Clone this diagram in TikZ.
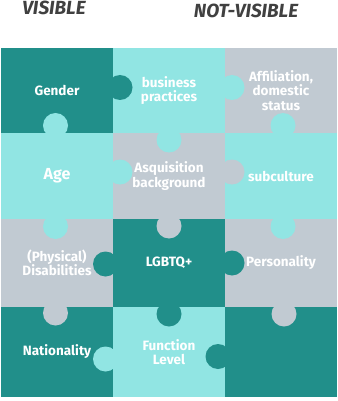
\documentclass[tikz,border=0pt]{standalone}
\usepackage{fontspec}
\setmainfont{Fira Sans}
\usetikzlibrary{positioning}
\definecolor{puzzledark}{HTML}{218F8A}
\definecolor{puzzlelight}{HTML}{91E5E3}
\definecolor{puzzlegrey}{HTML}{C1CAD2}
\definecolor{headgrey}{HTML}{404040}

\begin{document}
\begin{tikzpicture}[x=1pt,y=1pt,node distance=0pt,cell/.style={rectangle,inner sep=0pt,outer sep=0pt,minimum width=112pt,align=center,text=white,font=\bfseries\fontsize{13.5}{14.5}\selectfont},dark cell/.style={cell,fill=puzzledark},light cell/.style={cell,fill=puzzlelight},grey cell/.style={cell,fill=puzzlegrey},tab/.style={circle,inner sep=0pt,outer sep=0pt,minimum size=25pt},head/.style={font=\bfseries\itshape\fontsize{19}{22}\selectfont,text=headgrey}]
            \useasboundingbox (0,0) rectangle (337,-401);
            \node[head] (v) at (54,-8) {VISIBLE};
            \node[head] (nv) at (246,-11) {NOT-VISIBLE};

            \node[dark cell, minimum height=85pt] (11) at (57,-90.5) {Gender};
            \node[light cell, minimum height=85pt] (12) [right=of 11] {business\\practices};
            \node[grey cell, minimum height=85pt] (13) [right=of 12] {Affiliation,\\domestic\\status};

            \node[light cell, minimum height=86pt, font=\bfseries\fontsize{16}{18}\selectfont] (21) [below=of 11] {Age};
            \node[grey cell, minimum height=86pt] (22) [right=of 21] {Asquisition\\background};
            \node[light cell, minimum height=86pt] (23) [right=of 22] {subculture};

            \node[grey cell, minimum height=88pt] (31) [below=of 21] {(Physical)\\Disabilities};
            \node[dark cell, minimum height=88pt] (32) [right=of 31] {LGBTQ+};
            \node[grey cell, minimum height=88pt] (33) [right=of 32] {Personality};

            \node[dark cell, minimum height=90pt] (41) [below=of 31] {Nationality};
            \node[light cell, minimum height=90pt] (42) [right=of 41] {Function\\Level};
            \node[dark cell, minimum height=90pt] (43) [right=of 42] {};

            % tabs
            \node[tab, fill=puzzledark] (t1) at ([xshift=7pt,yshift=3pt]11.east) {};
            \node[tab, fill=puzzlelight] (t2) at ([xshift=7pt,yshift=3pt]12.east) {};
            \node[tab, fill=puzzlelight] (t3) at ([xshift=-1.5pt,yshift=7.5pt]21.north) {};
            \node[tab, fill=puzzlelight] (t4) at ([yshift=-7pt]12.south) {};
            \node[tab, fill=puzzlelight] (t5) at ([xshift=2pt,yshift=7.5pt]23.north) {};
            \node[tab, fill=puzzlelight] (t6) at ([xshift=7pt,yshift=4pt]21.east) {};
            \node[tab, fill=puzzlegrey] (t7) at ([xshift=7pt,yshift=4pt]22.east) {};
            \node[tab, fill=puzzlelight] (t8) at ([xshift=-1.5pt,yshift=-7.5pt]21.south) {};
            \node[tab, fill=puzzlegrey] (t9) at ([yshift=-7pt]22.south) {};
            \node[tab, fill=puzzlelight] (t10) at ([xshift=2pt,yshift=-7.5pt]23.south) {};
            \node[tab, fill=puzzledark] (t11) at ([xshift=-7.5pt,yshift=-1pt]32.west) {};
            \node[tab, fill=puzzledark] (t12) at ([xshift=7pt]32.east) {};
            \node[tab, fill=puzzlegrey] (t13) at ([xshift=-1.5pt,yshift=-6pt]31.south) {};
            \node[tab, fill=puzzledark] (t14) at ([yshift=-7pt]32.south) {};
            \node[tab, fill=puzzlegrey] (t15) at ([xshift=3pt,yshift=-7pt]33.south) {};
            \node[tab, fill=puzzlelight] (t16) at ([xshift=-7.5pt,yshift=-7pt]42.west) {};
            \node[tab, fill=puzzledark] (t17) at ([xshift=-7pt,yshift=-4.5pt]43.west) {};
        \end{tikzpicture}
\end{document}
